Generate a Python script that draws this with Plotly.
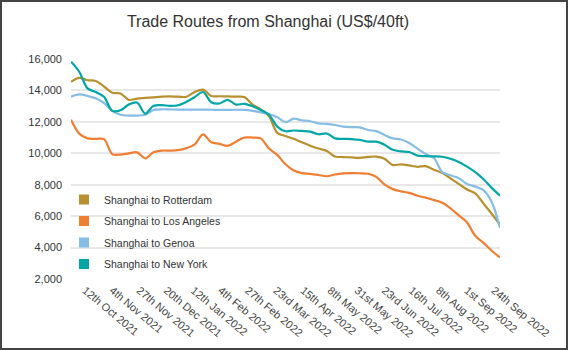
import pandas as pd
import plotly.graph_objects as go

# Weekly observations (Thursdays) from 30 Sep 2021 to 29 Sep 2022
dates = pd.date_range("2021-09-30", periods=53, freq="7D")

rotterdam = [14550, 14800, 14650, 14600, 14250, 13850, 13810, 13400, 13480, 13520,
             13560, 13600, 13620, 13600, 13600, 13900, 14050, 13650, 13630, 13620,
             13600, 13580, 13100, 12800, 12350, 11300, 11100, 10920, 10700, 10480,
             10300, 10150, 9800, 9760, 9740, 9710, 9770, 9790, 9650, 9250,
             9300, 9230, 9140, 9180, 8950, 8750, 8400, 8050, 7700, 7450,
             6800, 6150, 5450]
los_angeles = [12130, 11250, 10950, 10920, 10900, 9950, 9920, 10000, 10060, 9680,
               10060, 10170, 10170, 10200, 10330, 10570, 11200, 10700, 10600, 10470,
               10740, 11000, 11000, 10950, 10300, 9900, 9300, 8900, 8740, 8690,
               8620, 8540, 8650, 8720, 8740, 8730, 8700, 8500, 8020, 7720,
               7580, 7480, 7300, 7180, 7020, 6850, 6500, 6050, 5600, 4750,
               4300, 3800, 3370]
genoa = [13600, 13750, 13650, 13500, 13200, 12700, 12450, 12400, 12400, 12450,
         12750, 12800, 12790, 12780, 12780, 12780, 12780, 12770, 12760, 12760,
         12770, 12760, 12700, 12600, 12500, 12300, 11980, 12200, 12100, 12040,
         11900, 11870, 11800, 11700, 11660, 11650, 11480, 11410, 11170, 10950,
         10880, 10650, 10300, 9950, 9700, 8800, 8600, 8420, 8050, 7880,
         7650, 6900, 5250]
new_york = [15830, 15190, 14130, 13900, 13600, 12700, 12740, 13100, 13230, 12530,
            13020, 13060, 13020, 13060, 13280, 13580, 13900, 13250, 13170, 13400,
            13100, 13150, 13000, 12750, 12450, 11700, 11400, 11450, 11420, 11380,
            11210, 11260, 10950, 10920, 10900, 10850, 10740, 10740, 10550, 10220,
            10120, 10080, 9850, 9820, 9800, 9780, 9650, 9450, 9150, 8800,
            8350, 7800, 7300]

series_names = ["Shanghai to Rotterdam", "Shanghai to Los Angeles",
                "Shanghai to Genoa", "Shanghai to New York"]
series_values = [rotterdam, los_angeles, genoa, new_york]
colors = ["#B8902F", "#F07E32", "#85BDE6", "#03A6A6"]

tick_dates = ["2021-10-12", "2021-11-04", "2021-11-27", "2021-12-20", "2022-01-12",
              "2022-02-04", "2022-02-27", "2022-03-23", "2022-04-15", "2022-05-08",
              "2022-05-31", "2022-06-23", "2022-07-16", "2022-08-08", "2022-09-01",
              "2022-09-24"]
tick_labels = ["12th Oct 2021", "4th Nov 2021", "27th Nov 2021", "20th Dec 2021",
               "12th Jan 2022", "4th Feb 2022", "27th Feb 2022", "23rd Mar 2022",
               "15th Apr 2022", "8th May 2022", "31st May 2022", "23rd Jun 2022",
               "16th Jul 2022", "8th Aug 2022", "1st Sep 2022", "24th Sep 2022"]
y_ticks = [2000, 4000, 6000, 8000, 10000, 12000, 14000, 16000]

FONT = "Liberation Sans, Arial, sans-serif"
W, H = 568, 350
ML, MR, MT, MB = 71, 68, 59, 71
PW, PH = W - ML - MR, H - MT - MB

fig = go.Figure()
for name, vals, col in zip(series_names, series_values, colors):
    fig.add_trace(go.Scatter(
        x=dates, y=vals, mode="lines", name=name, showlegend=False,
        line=dict(color=col, width=2.2, shape="spline", smoothing=0.9),
        hoverinfo="skip"))
for i, (name, col) in enumerate(zip(series_names, colors)):
    fig.add_trace(go.Scatter(
        x=[None], y=[None], mode="markers", name=name, legendgroup=f"g{i}",
        marker=dict(symbol="square", size=10, color=col), hoverinfo="skip"))

fig.update_layout(
    width=W, height=H,
    margin=dict(l=ML, r=MR, t=MT, b=MB, pad=0, autoexpand=False),
    paper_bgcolor="white", plot_bgcolor="white",
    font=dict(family=FONT, size=11, color="#333333"),
    title=dict(text="Trade Routes from Shanghai (US$/40ft)",
               x=268 / W, xref="container", xanchor="center",
               y=1 - 21 / H, yref="container", yanchor="middle",
               font=dict(family=FONT, size=16, color="#333333")),
    legend=dict(x=(64 - ML) / PW, xanchor="left",
                y=(MT + PH - 185) / PH, yanchor="top",
                bgcolor="rgba(0,0,0,0)", borderwidth=0,
                font=dict(family=FONT, size=10.5, color="#333333"),
                tracegroupgap=2.5, itemclick=False),
    showlegend=True,
    hovermode=False,
)
fig.update_xaxes(
    type="date", range=[dates[0], dates[-1]], automargin=False,
    tickvals=tick_dates, ticktext=tick_labels, tickangle=40,
    showgrid=False, zeroline=False, showline=False, ticks="",
    tickfont=dict(family=FONT, size=11, color="#444444"),
    ticklabelstandoff=2)
fig.update_yaxes(
    range=[2000, 16000], tickvals=y_ticks, tickformat=",d", automargin=False,
    showgrid=True, gridcolor="#e8e8e8", gridwidth=1.5,
    zeroline=False, showline=False, ticks="",
    tickfont=dict(family=FONT, size=11, color="#333333"),
    ticklabelstandoff=8)

# outer border of the chart card
fig.add_shape(type="rect", xref="paper", yref="paper",
              x0=(1 - ML) / PW, x1=1 + (MR - 1) / PW,
              y0=-(MB - 1) / PH, y1=1 + (MT - 1) / PH,
              line=dict(color="#444444", width=2), layer="above")

fig.write_html("out.html")
